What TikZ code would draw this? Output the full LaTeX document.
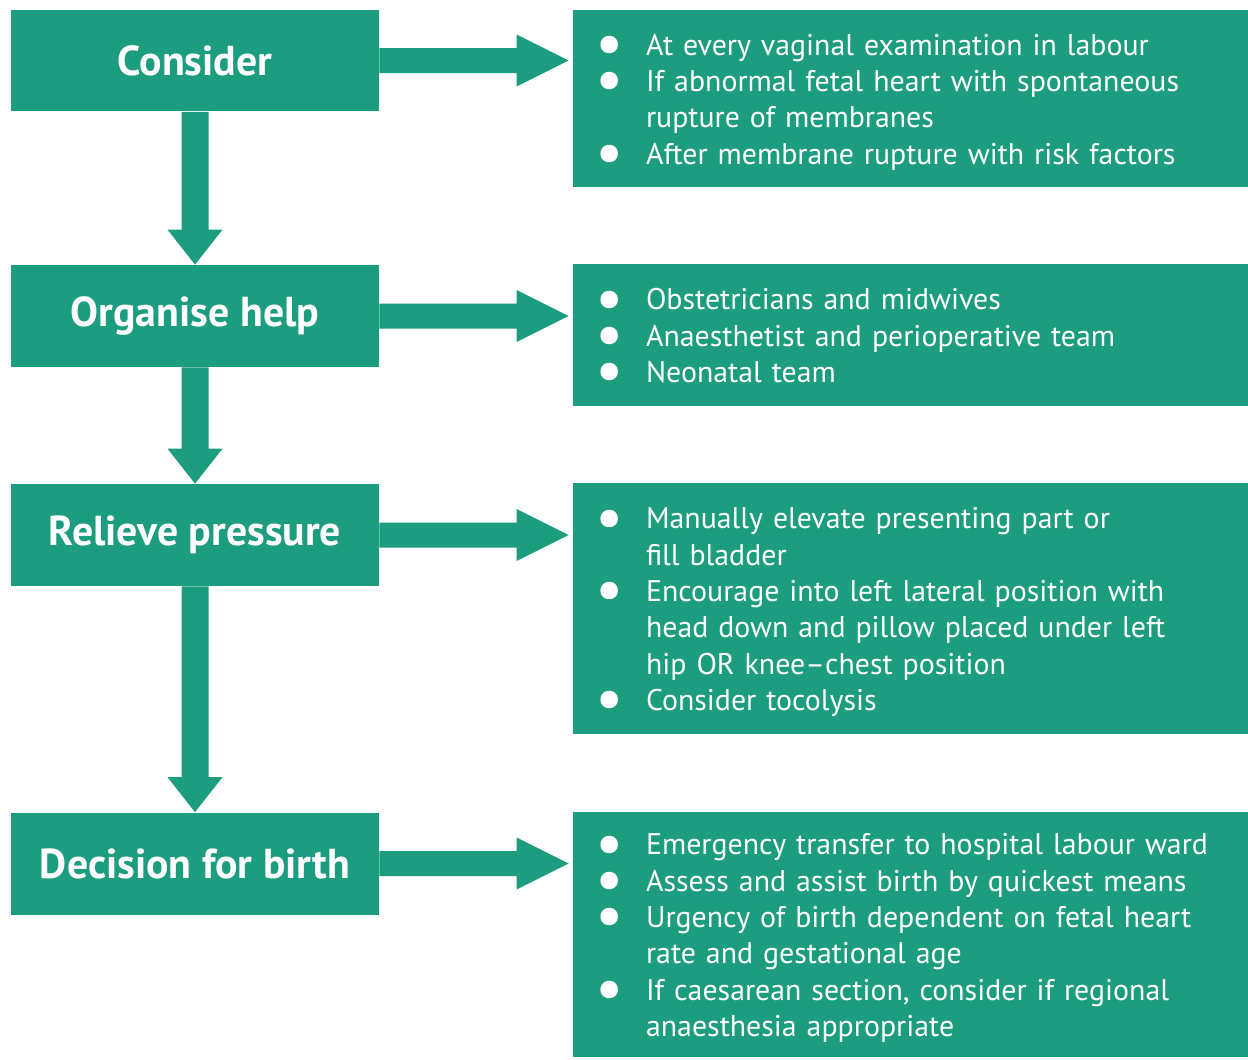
\documentclass[tikz,border=0pt]{standalone}
\usepackage{fontspec}
\setmainfont{PT Sans}
\usepackage{tikz}
\usetikzlibrary{calc}
\definecolor{flowgreen}{RGB}{29,157,128}
\tikzset{%
    stepbox/.style={fill=flowgreen, draw=none, text=white, font=\fontsize{23.8}{26}\selectfont\bfseries,
        minimum width=7.36cm, minimum height=2.04cm, inner sep=0pt},
    infobox/.style={fill=flowgreen, draw=none, text=white, font=\fontsize{17}{20.7}\selectfont,
        minimum width=13.5cm, text width=12.3cm, align=left, inner xsep=0.6cm, inner ysep=0pt},
    flow/.style={fill=flowgreen, draw=none}
}
\newcommand{\bl}{\hspace*{-0.16cm}\raisebox{-0.62ex}{\scalebox{2.1}{\textbullet}}}
\newcommand{\blt}{\rule{0pt}{19pt}\bl}

\begin{document}
\begin{tikzpicture}[x=0.02cm,y=-0.02cm]
    \useasboundingbox (0,0) rectangle (1248,1059);

    \node[stepbox] (consider) at (195,60.5) {Consider};
    \node[stepbox] (organise) at (195,316) {Organise help};
    \node[stepbox] (relieve) at (195,535) {Relieve pressure};
    \node[stepbox] (decision) at (195,863.5) {Decision for birth};

    \node[infobox, minimum height=3.54cm] (when) at (910.5,98.5) {%
        \begin{tabular}{@{}p{0.86cm}@{}l@{}}
        \blt & At every vaginal examination in labour\\
        \bl & If abnormal fetal heart with spontaneous\\
             & rupture of membranes\\
        \bl & After membrane rupture with risk factors
        \end{tabular}};
    \node[infobox, minimum height=2.84cm] (who) at (910.5,335) {%
        \begin{tabular}{@{}p{0.86cm}@{}l@{}}
        \blt & Obstetricians and midwives\\
        \bl & Anaesthetist and perioperative team\\
        \bl & Neonatal team
        \end{tabular}};
    \node[infobox, minimum height=5.02cm] (how) at (910.5,608.5) {%
        \begin{tabular}{@{}p{0.86cm}@{}l@{}}
        \blt & Manually elevate presenting part or\\
             & fill bladder\\
        \bl & Encourage into left lateral position with\\
             & head down and pillow placed under left\\
             & hip OR knee--chest position\\
        \bl & Consider tocolysis
        \end{tabular}};
    \node[infobox, minimum height=4.9cm] (birth) at (910.5,934.5) {%
        \begin{tabular}{@{}p{0.86cm}@{}l@{}}
        \blt & Emergency transfer to hospital labour ward\\
        \bl & Assess and assist birth by quickest means\\
        \bl & Urgency of birth dependent on fetal heart\\
             & rate and gestational age\\
        \bl & If caesarean section, consider if regional\\
             & anaesthesia appropriate
        \end{tabular}};

    % block arrows down the left column
    \foreach \a/\b in {consider/organise, organise/relieve, relieve/decision}{
        \fill[flow] ($(\a.south)+(-13.5,0)$) -- ($(\b.north)+(-13.5,-35)$) -- ($(\b.north)+(-27.5,-35)$)
            -- (\b.north) -- ($(\b.north)+(27.5,-35)$) -- ($(\b.north)+(13.5,-35)$)
            -- ($(\a.south)+(13.5,0)$) -- cycle;
    }
    % block arrows to the right
    \foreach \a/\b in {consider/when, organise/who, relieve/how, decision/birth}{
        \coordinate (tip) at ($(\a.east -| \b.west)+(-4,0)$);
        \fill[flow] ($(\a.east)+(0,-12.5)$) -- ($(tip)+(-52,-12.5)$) -- ($(tip)+(-52,-26)$)
            -- (tip) -- ($(tip)+(-52,26)$) -- ($(tip)+(-52,12.5)$)
            -- ($(\a.east)+(0,12.5)$) -- cycle;
    }
\end{tikzpicture}
\end{document}
